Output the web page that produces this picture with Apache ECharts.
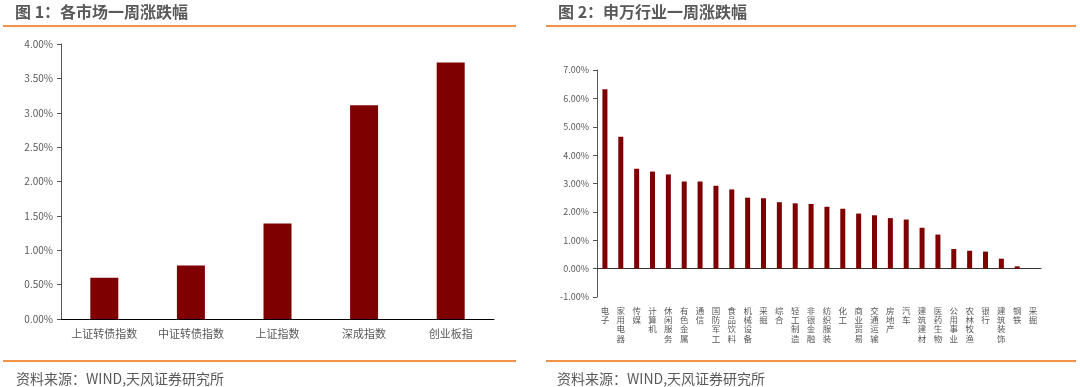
<!DOCTYPE html>
<html>
<head>
<meta charset="utf-8">
<script src="https://cdn.jsdelivr.net/npm/echarts@6/dist/echarts.min.js"></script>
<style>
html,body{margin:0;padding:0;background:#fff;}
#c{width:1080px;height:387px;}
</style>
</head>
<body>
<div id="c"></div>
<script>
// Figure 1: market weekly change (%)
const marketCategories = ['上证转债指数', '中证转债指数', '上证指数', '深成指数', '创业板指'];
const marketValues = [0.60, 0.78, 1.39, 3.11, 3.73];

// Figure 2: Shenwan industry weekly change (%)
const industryCategories = ['电子', '家用电器', '传媒', '计算机', '休闲服务', '有色金属', '通信', '国防军工',
  '食品饮料', '机械设备', '采掘', '综合', '轻工制造', '非银金融', '纺织服装', '化工', '商业贸易', '交通运输',
  '房地产', '汽车', '建筑建材', '医药生物', '公用事业', '农林牧渔', '银行', '建筑装饰', '钢铁', '采掘'];
const industryValues = [6.32, 4.65, 3.52, 3.42, 3.32, 3.07, 3.07, 2.92, 2.79, 2.50, 2.48, 2.34, 2.30, 2.28,
  2.18, 2.11, 1.94, 1.88, 1.78, 1.73, 1.44, 1.20, 0.69, 0.63, 0.60, 0.35, 0.08, 0.00];

const titles = ['图 1：各市场一周涨跌幅', '图 2：申万行业一周涨跌幅'];
const sourceText = '资料来源：WIND,天风证券研究所';

const grey = '#595959';
const orange = '#F0924A';
const barColor = '#7F0000';
const font = '"Noto Sans CJK SC", "Noto Sans", sans-serif';

const chart = echarts.init(document.getElementById('c'), null, {renderer: 'canvas'});

function lineGraphic(x1, x2, y) {
  return {type: 'line', shape: {x1: x1, y1: y, x2: x2, y2: y}, style: {stroke: orange, lineWidth: 2}, silent: true};
}
function textGraphic(x, y, text, size, weight) {
  return {type: 'text', x: x, y: y, style: {text: text, fill: grey, font: weight + ' ' + size + 'px ' + font, textVerticalAlign: 'middle', verticalAlign: 'middle'}, silent: true};
}

chart.setOption({
  animation: false,
  backgroundColor: '#fff',
  textStyle: {fontFamily: font},
  graphic: [
    textGraphic(15, 12, titles[0], 16, 'bold'),
    textGraphic(558, 12, titles[1], 16, 'bold'),
    lineGraphic(3, 516, 26),
    lineGraphic(546, 1076, 26),
    lineGraphic(3, 516, 361),
    lineGraphic(546, 1076, 361),
    textGraphic(16, 379, sourceText, 14, 'normal'),
    textGraphic(557, 379, sourceText, 14, 'normal')
  ],
  grid: [
    {left: 61, right: 586, top: 44, bottom: 68},
    {left: 597, right: 39, top: 70, bottom: 90}
  ],
  xAxis: [
    {
      type: 'category', gridIndex: 0, data: marketCategories,
      axisLine: {lineStyle: {color: '#000', width: 1}},
      axisTick: {show: false},
      axisLabel: {color: grey, fontSize: 11, margin: 9, interval: 0}
    },
    {
      type: 'category', gridIndex: 1, data: industryCategories,
      axisLine: {lineStyle: {color: '#333', width: 1}},
      axisTick: {show: false},
      axisLabel: {
        color: grey, fontSize: 8.5, lineHeight: 9.3, margin: 9, interval: 0, verticalAlign: 'top',
        formatter: function (v) { return v.split('').join('\n'); }
      }
    }
  ],
  yAxis: [
    {
      type: 'value', gridIndex: 0, min: 0, max: 4, interval: 0.5,
      splitLine: {show: false},
      axisLine: {show: true, lineStyle: {color: '#555'}},
      axisTick: {show: true, length: 4, lineStyle: {color: '#555'}},
      axisLabel: {color: grey, fontSize: 10, margin: 8, formatter: function (v) { return v.toFixed(2) + '%'; }}
    },
    {
      type: 'value', gridIndex: 1, min: -1, max: 7, interval: 1,
      splitLine: {show: false},
      axisLine: {show: true, lineStyle: {color: '#555'}},
      axisTick: {show: true, length: 4, lineStyle: {color: '#555'}},
      axisLabel: {color: grey, fontSize: 9, margin: 8, formatter: function (v) { return v.toFixed(2) + '%'; }}
    }
  ],
  series: [
    {type: 'bar', xAxisIndex: 0, yAxisIndex: 0, data: marketValues, barWidth: 28, itemStyle: {color: barColor}},
    {type: 'bar', xAxisIndex: 1, yAxisIndex: 1, data: industryValues, barWidth: 5, itemStyle: {color: barColor}}
  ]
});
</script>
</body>
</html>
